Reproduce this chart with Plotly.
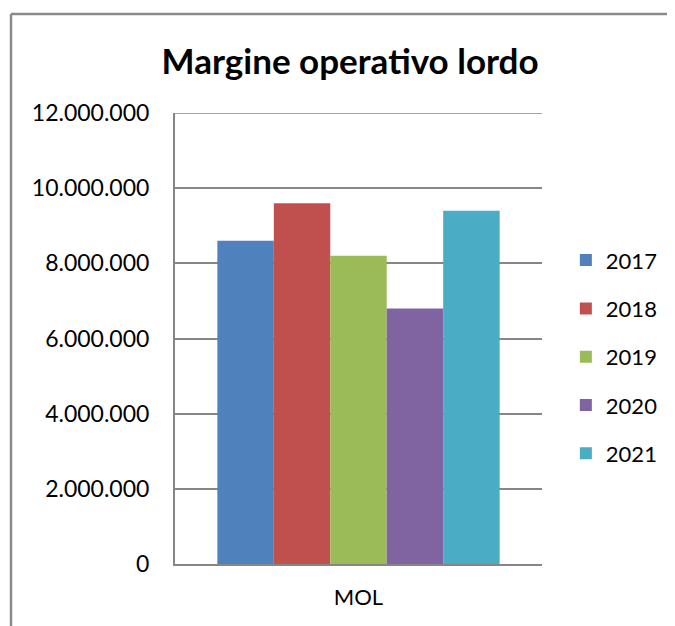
import plotly.graph_objects as go

categories = ["MOL"]
years = ["2017", "2018", "2019", "2020", "2021"]
values = [8600000, 9600000, 8200000, 6800000, 9400000]
colors = ["#4F81BD", "#C0504D", "#9BBB59", "#8064A2", "#4BACC6"]
y_ticks = [0, 2000000, 4000000, 6000000, 8000000, 10000000, 12000000]

FONT = "Lato"

# page body has an 8px offset; plot area target in page px: x 175-542, y 113-564
L, T = 167, 105
PW, PH = 367, 451

fig = go.Figure()
for yr, v, c in zip(years, values, colors):
    fig.add_trace(go.Bar(
        x=categories, y=[v], name=yr, legendgroup=yr,
        marker=dict(color=c, line=dict(width=0)),
    ))

fig.update_layout(
    width=675, height=626,
    paper_bgcolor="white", plot_bgcolor="white",
    separators=",.",
    barmode="group", bargap=0.2308, bargroupgap=0,
    margin=dict(l=L, r=675 - L - PW, t=T, b=626 - T - PH),
    title=dict(text="<b>Margine operativo lordo</b>", x=0.477, xref="paper", xanchor="center",
               y=1 - 54 / 626, yanchor="middle",
               font=dict(family=FONT, size=35, color="#000000")),
    legend=dict(x=1.065, y=0.72, xanchor="left", yanchor="top",
                font=dict(family=FONT, size=22, color="#000000"),
                tracegroupgap=16.7, traceorder="grouped",
                bgcolor="rgba(0,0,0,0)"),
    font=dict(family=FONT, color="#000000"),
)
fig.update_xaxes(showline=True, linecolor="#868686", linewidth=2,
                 showgrid=False, ticks="", ticklabelstandoff=13,
                 tickfont=dict(family=FONT, size=22, color="#000000"))
fig.update_yaxes(range=[0, 12000000], tickvals=y_ticks, tickformat=",d",
                 showline=True, linecolor="#868686", linewidth=2,
                 showgrid=True, gridcolor="#868686", gridwidth=1.6,
                 zeroline=False, ticks="", ticklabelstandoff=19,
                 tickfont=dict(family=FONT, size=23, color="#000000"))

# top gridline at the axis maximum (plotly omits it at the range edge)
fig.add_shape(type="line", xref="paper", yref="y", x0=0, x1=1,
              y0=y_ticks[-1], y1=y_ticks[-1],
              line=dict(color="#868686", width=1.6), layer="below")

# outer frame (top and left edges)
fig.add_shape(type="line", xref="paper", yref="paper",
              x0=(3 - L) / PW, x1=(700 - L) / PW,
              y0=(T + PH - 6) / PH, y1=(T + PH - 6) / PH,
              line=dict(color="#8A8A8A", width=2.5))
fig.add_shape(type="line", xref="paper", yref="paper",
              x0=(3 - L) / PW, x1=(3 - L) / PW,
              y0=(T + PH - 6) / PH, y1=(T + PH - 660) / PH,
              line=dict(color="#8A8A8A", width=2.5))

fig.write_html("out.html")
